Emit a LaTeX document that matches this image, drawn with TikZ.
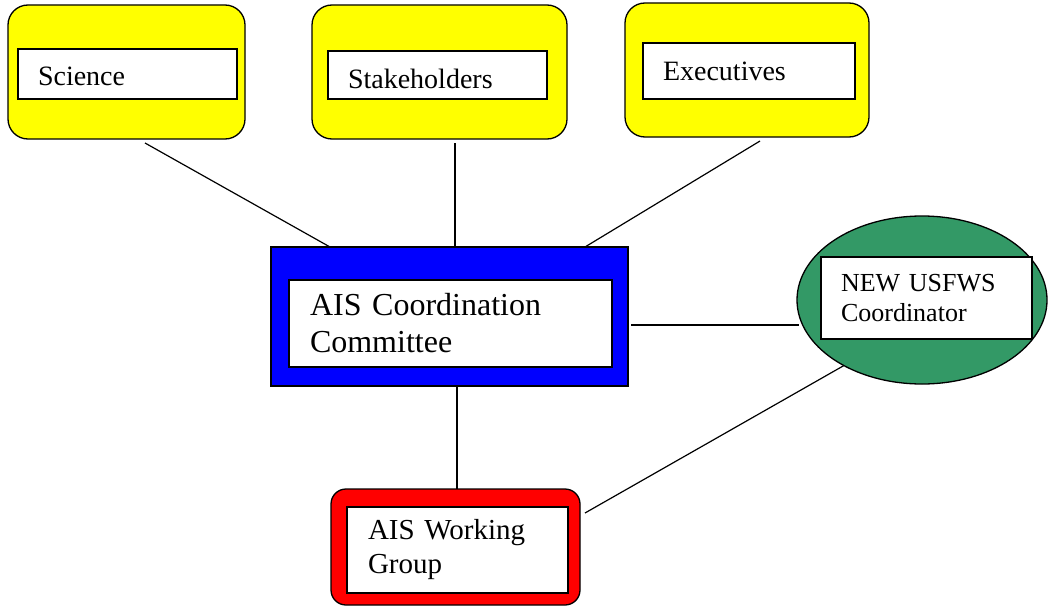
\documentclass[tikz,border=0pt]{standalone}
\usepackage{fontspec}
\setmainfont{Liberation Serif}
\usetikzlibrary{shapes.geometric}
\definecolor{ylw}{RGB}{255,255,0}
\definecolor{blu}{RGB}{0,0,255}
\definecolor{grn}{RGB}{51,153,102}
\definecolor{rd}{RGB}{255,0,0}
\tikzset{
  outerbox/.style={draw=black, line width=1.3pt, inner sep=0pt, outer sep=0pt},
  yellowbox/.style={outerbox, fill=ylw, rounded corners=20pt},
  innerbox/.style={draw=black, fill=white, line width=1.5pt, inner ysep=0pt, inner xsep=20pt, outer sep=0pt, align=left},
  link/.style={draw=black, line width=1.2pt},
}
\begin{document}
\begin{tikzpicture}[x=1pt,y=-1pt]
\useasboundingbox (0,0) rectangle (1048,607);
% top yellow boxes
\node[yellowbox, minimum width=237pt, minimum height=134pt] (sci) at (126.5,72) {};
\node[innerbox, minimum height=50pt, text width=179pt, text height=24pt, text depth=0pt, font=\fontsize{28}{32}\selectfont] (scit) at (127.5,74) {Science};
\node[yellowbox, minimum width=255pt, minimum height=134pt] (stk) at (439.5,72) {};
\node[innerbox, minimum height=48pt, text width=179pt, text height=28pt, text depth=0pt, font=\fontsize{28}{32}\selectfont] (stkt) at (437.5,75) {Stakeholders};
\node[yellowbox, minimum width=244pt, minimum height=134pt] (exe) at (747,70) {};
\node[innerbox, minimum height=56pt, text width=172pt, text height=20pt, text depth=0pt, font=\fontsize{28}{32}\selectfont] (exet) at (749,71) {Executives};
% blue committee
\node[outerbox, fill=blu, minimum width=357pt, minimum height=139pt] (blu) at (449.5,316.5) {};
\node[innerbox, inner xsep=21pt, minimum height=87pt, text width=281pt, font=\fontsize{32}{37}\selectfont] (blut) at (450.5,323.5) {AIS Coordination\\Committee};
% green ellipse
\node[outerbox, ellipse, fill=grn, minimum width=250pt, minimum height=168pt] (ell) at (922,300) {};
\node[innerbox, minimum height=82pt, text width=171pt, font=\fontsize{26}{30}\selectfont] (ellt) at (926.5,298) {NEW USFWS\\Coordinator};
% red working group
\node[outerbox, fill=rd, rounded corners=15pt, minimum width=249pt, minimum height=116pt] (red) at (455.5,547) {};
\node[innerbox, inner xsep=21pt, minimum height=86pt, text width=179pt, font=\fontsize{29}{34}\selectfont] (redt) at (457.5,550) {AIS Working\\Group};
% connectors
\draw[link] ([xshift=18.5pt,yshift=-4pt]sci.south) -- ([xshift=-119.5pt]blu.north);
\draw[link] ([xshift=15.5pt,yshift=-4pt]stk.south) -- ([xshift=5.5pt]blu.north);
\draw[link] ([xshift=13pt,yshift=-4pt]exe.south) -- ([xshift=135.5pt]blu.north);
\draw[link] ([xshift=3pt,yshift=-8.5pt]blu.east) -- ([xshift=2pt,yshift=-25pt]ell.west);
\draw[link] ([xshift=7.5pt]blu.south) -- ([xshift=1.5pt]red.north);
\draw[link] (ell.220) -- ([xshift=5pt,yshift=34pt]red.east);
\end{tikzpicture}
\end{document}
